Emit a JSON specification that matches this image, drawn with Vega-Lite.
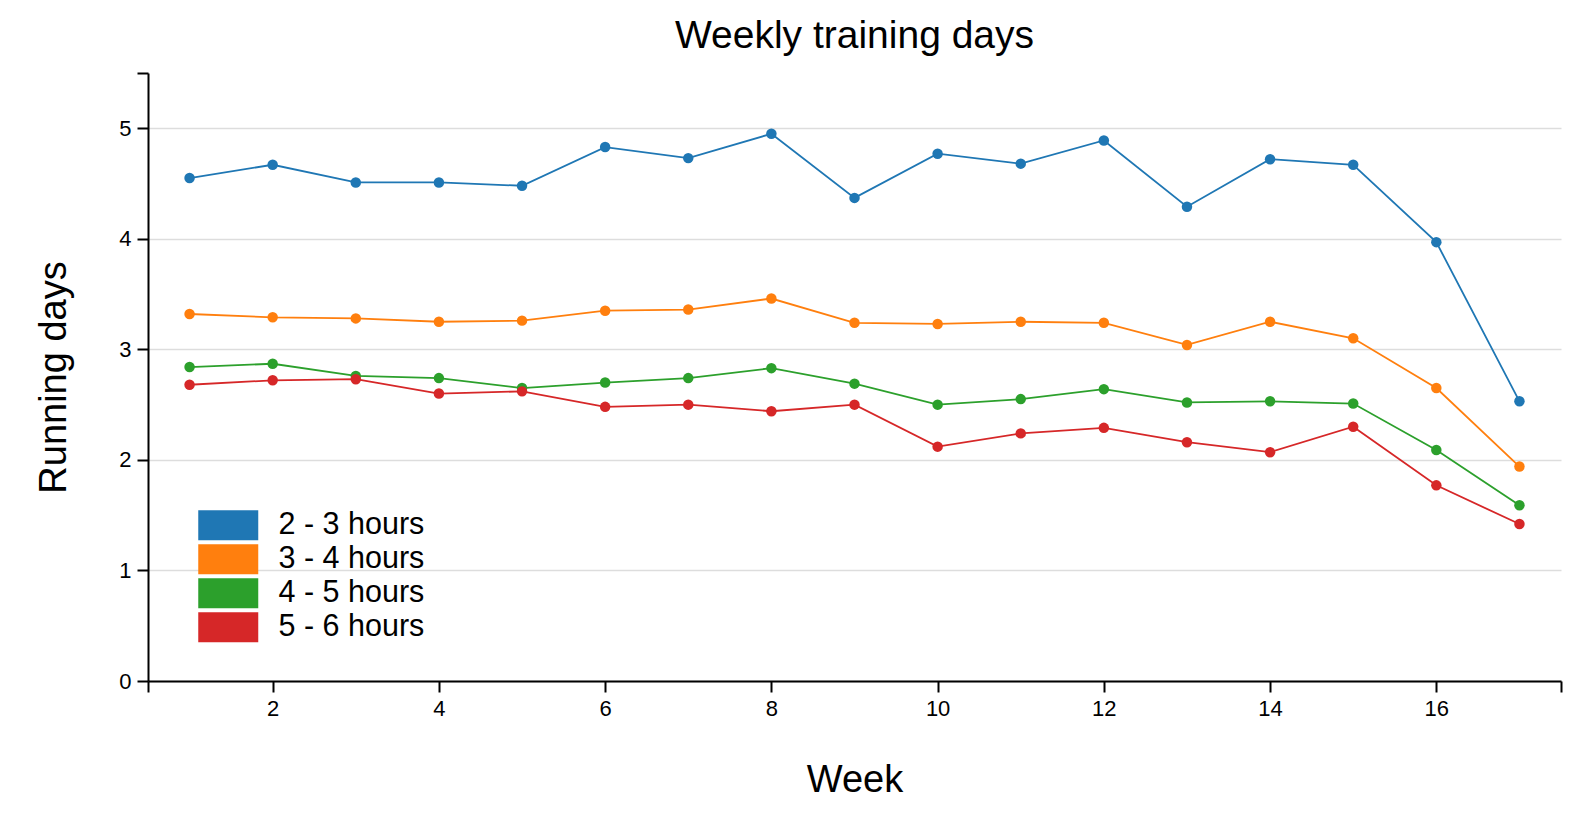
{
  "$schema": "https://vega.github.io/schema/vega-lite/v6.json",
  "width": 1413,
  "height": 608,
  "autosize": "none",
  "padding": {"left": 148, "top": 73, "right": 9, "bottom": 145},
  "background": "white",
  "title": {
    "text": "Weekly training days",
    "font": "Liberation Sans",
    "fontSize": 39,
    "fontWeight": "normal",
    "color": "black",
    "anchor": "middle",
    "offset": 16
  },
  "data": {
    "values": [
      {"week": 1, "group": "2 - 3 hours", "days": 4.55},
      {"week": 2, "group": "2 - 3 hours", "days": 4.67},
      {"week": 3, "group": "2 - 3 hours", "days": 4.51},
      {"week": 4, "group": "2 - 3 hours", "days": 4.51},
      {"week": 5, "group": "2 - 3 hours", "days": 4.48},
      {"week": 6, "group": "2 - 3 hours", "days": 4.83},
      {"week": 7, "group": "2 - 3 hours", "days": 4.73},
      {"week": 8, "group": "2 - 3 hours", "days": 4.95},
      {"week": 9, "group": "2 - 3 hours", "days": 4.37},
      {"week": 10, "group": "2 - 3 hours", "days": 4.77},
      {"week": 11, "group": "2 - 3 hours", "days": 4.68},
      {"week": 12, "group": "2 - 3 hours", "days": 4.89},
      {"week": 13, "group": "2 - 3 hours", "days": 4.29},
      {"week": 14, "group": "2 - 3 hours", "days": 4.72},
      {"week": 15, "group": "2 - 3 hours", "days": 4.67},
      {"week": 16, "group": "2 - 3 hours", "days": 3.97},
      {"week": 17, "group": "2 - 3 hours", "days": 2.53},
      {"week": 1, "group": "3 - 4 hours", "days": 3.32},
      {"week": 2, "group": "3 - 4 hours", "days": 3.29},
      {"week": 3, "group": "3 - 4 hours", "days": 3.28},
      {"week": 4, "group": "3 - 4 hours", "days": 3.25},
      {"week": 5, "group": "3 - 4 hours", "days": 3.26},
      {"week": 6, "group": "3 - 4 hours", "days": 3.35},
      {"week": 7, "group": "3 - 4 hours", "days": 3.36},
      {"week": 8, "group": "3 - 4 hours", "days": 3.46},
      {"week": 9, "group": "3 - 4 hours", "days": 3.24},
      {"week": 10, "group": "3 - 4 hours", "days": 3.23},
      {"week": 11, "group": "3 - 4 hours", "days": 3.25},
      {"week": 12, "group": "3 - 4 hours", "days": 3.24},
      {"week": 13, "group": "3 - 4 hours", "days": 3.04},
      {"week": 14, "group": "3 - 4 hours", "days": 3.25},
      {"week": 15, "group": "3 - 4 hours", "days": 3.10},
      {"week": 16, "group": "3 - 4 hours", "days": 2.65},
      {"week": 17, "group": "3 - 4 hours", "days": 1.94},
      {"week": 1, "group": "4 - 5 hours", "days": 2.84},
      {"week": 2, "group": "4 - 5 hours", "days": 2.87},
      {"week": 3, "group": "4 - 5 hours", "days": 2.76},
      {"week": 4, "group": "4 - 5 hours", "days": 2.74},
      {"week": 5, "group": "4 - 5 hours", "days": 2.65},
      {"week": 6, "group": "4 - 5 hours", "days": 2.70},
      {"week": 7, "group": "4 - 5 hours", "days": 2.74},
      {"week": 8, "group": "4 - 5 hours", "days": 2.83},
      {"week": 9, "group": "4 - 5 hours", "days": 2.69},
      {"week": 10, "group": "4 - 5 hours", "days": 2.50},
      {"week": 11, "group": "4 - 5 hours", "days": 2.55},
      {"week": 12, "group": "4 - 5 hours", "days": 2.64},
      {"week": 13, "group": "4 - 5 hours", "days": 2.52},
      {"week": 14, "group": "4 - 5 hours", "days": 2.53},
      {"week": 15, "group": "4 - 5 hours", "days": 2.51},
      {"week": 16, "group": "4 - 5 hours", "days": 2.09},
      {"week": 17, "group": "4 - 5 hours", "days": 1.59},
      {"week": 1, "group": "5 - 6 hours", "days": 2.68},
      {"week": 2, "group": "5 - 6 hours", "days": 2.72},
      {"week": 3, "group": "5 - 6 hours", "days": 2.73},
      {"week": 4, "group": "5 - 6 hours", "days": 2.60},
      {"week": 5, "group": "5 - 6 hours", "days": 2.62},
      {"week": 6, "group": "5 - 6 hours", "days": 2.48},
      {"week": 7, "group": "5 - 6 hours", "days": 2.50},
      {"week": 8, "group": "5 - 6 hours", "days": 2.44},
      {"week": 9, "group": "5 - 6 hours", "days": 2.50},
      {"week": 10, "group": "5 - 6 hours", "days": 2.12},
      {"week": 11, "group": "5 - 6 hours", "days": 2.24},
      {"week": 12, "group": "5 - 6 hours", "days": 2.29},
      {"week": 13, "group": "5 - 6 hours", "days": 2.16},
      {"week": 14, "group": "5 - 6 hours", "days": 2.07},
      {"week": 15, "group": "5 - 6 hours", "days": 2.30},
      {"week": 16, "group": "5 - 6 hours", "days": 1.77},
      {"week": 17, "group": "5 - 6 hours", "days": 1.42}
    ]
  },
  "encoding": {
    "x": {
      "field": "week",
      "type": "quantitative",
      "title": "Week",
      "scale": {"domain": [0.5, 17.5], "nice": false, "zero": false},
      "axis": {
        "values": [0.5, 2, 4, 6, 8, 10, 12, 14, 16, 17.5],
        "tickCount": 30,
        "tickMinStep": 0.1,
        "labelExpr": "datum.value % 2 == 0 ? format(datum.value, 'd') : ''",
        "grid": false,
        "titlePadding": 42
      }
    },
    "y": {
      "field": "days",
      "type": "quantitative",
      "title": "Running days",
      "scale": {"domain": [0, 5.5], "nice": false},
      "axis": {
        "values": [0, 1, 2, 3, 4, 5, 5.5],
        "tickCount": 30,
        "tickMinStep": 0.1,
        "labelExpr": "datum.value == 5.5 ? '' : format(datum.value, 'd')",
        "grid": true,
        "gridColor": {"condition": {"test": "datum.value > 5", "value": "transparent"}, "value": "#dddddd"},
        "titlePadding": 45
      }
    },
    "color": {
      "field": "group",
      "type": "nominal",
      "scale": {
        "domain": ["2 - 3 hours", "3 - 4 hours", "4 - 5 hours", "5 - 6 hours"],
        "range": ["#1f77b4", "#ff7f0e", "#2ca02c", "#d62728"]
      },
      "legend": {
        "title": null,
        "orient": "none",
        "legendX": 65,
        "legendY": 437,
        "padding": 0,
        "symbolType": "M-2,-1H2V1H-2Z",
        "symbolSize": 900,
        "symbolStrokeWidth": 0,
        "symbolOpacity": 1,
        "labelOffset": 35,
        "labelFont": "Liberation Sans",
        "labelFontSize": 30.5,
        "labelColor": "black",
        "rowPadding": 3,
        "encode": {
          "symbols": {
            "update": {
              "fill": {"scale": "color", "field": "value"},
              "stroke": {"value": "transparent"}
            }
          }
        }
      }
    }
  },
  "layer": [
    {
      "mark": {"type": "line", "strokeWidth": 1.8}
    },
    {
      "mark": {"type": "point", "filled": true, "size": 110, "opacity": 1}
    }
  ],
  "config": {
    "view": {"stroke": null},
    "axis": {
      "domainColor": "black",
      "domainWidth": 2,
      "tickColor": "black",
      "tickWidth": 2,
      "tickSize": 11,
      "labelFont": "Liberation Sans",
      "labelFontSize": 22,
      "labelColor": "black",
      "labelPadding": 6,
      "titleFont": "Liberation Sans",
      "titleFontSize": 38,
      "titleFontWeight": "normal",
      "titleColor": "black",
      "gridWidth": 1.5
    }
  }
}
